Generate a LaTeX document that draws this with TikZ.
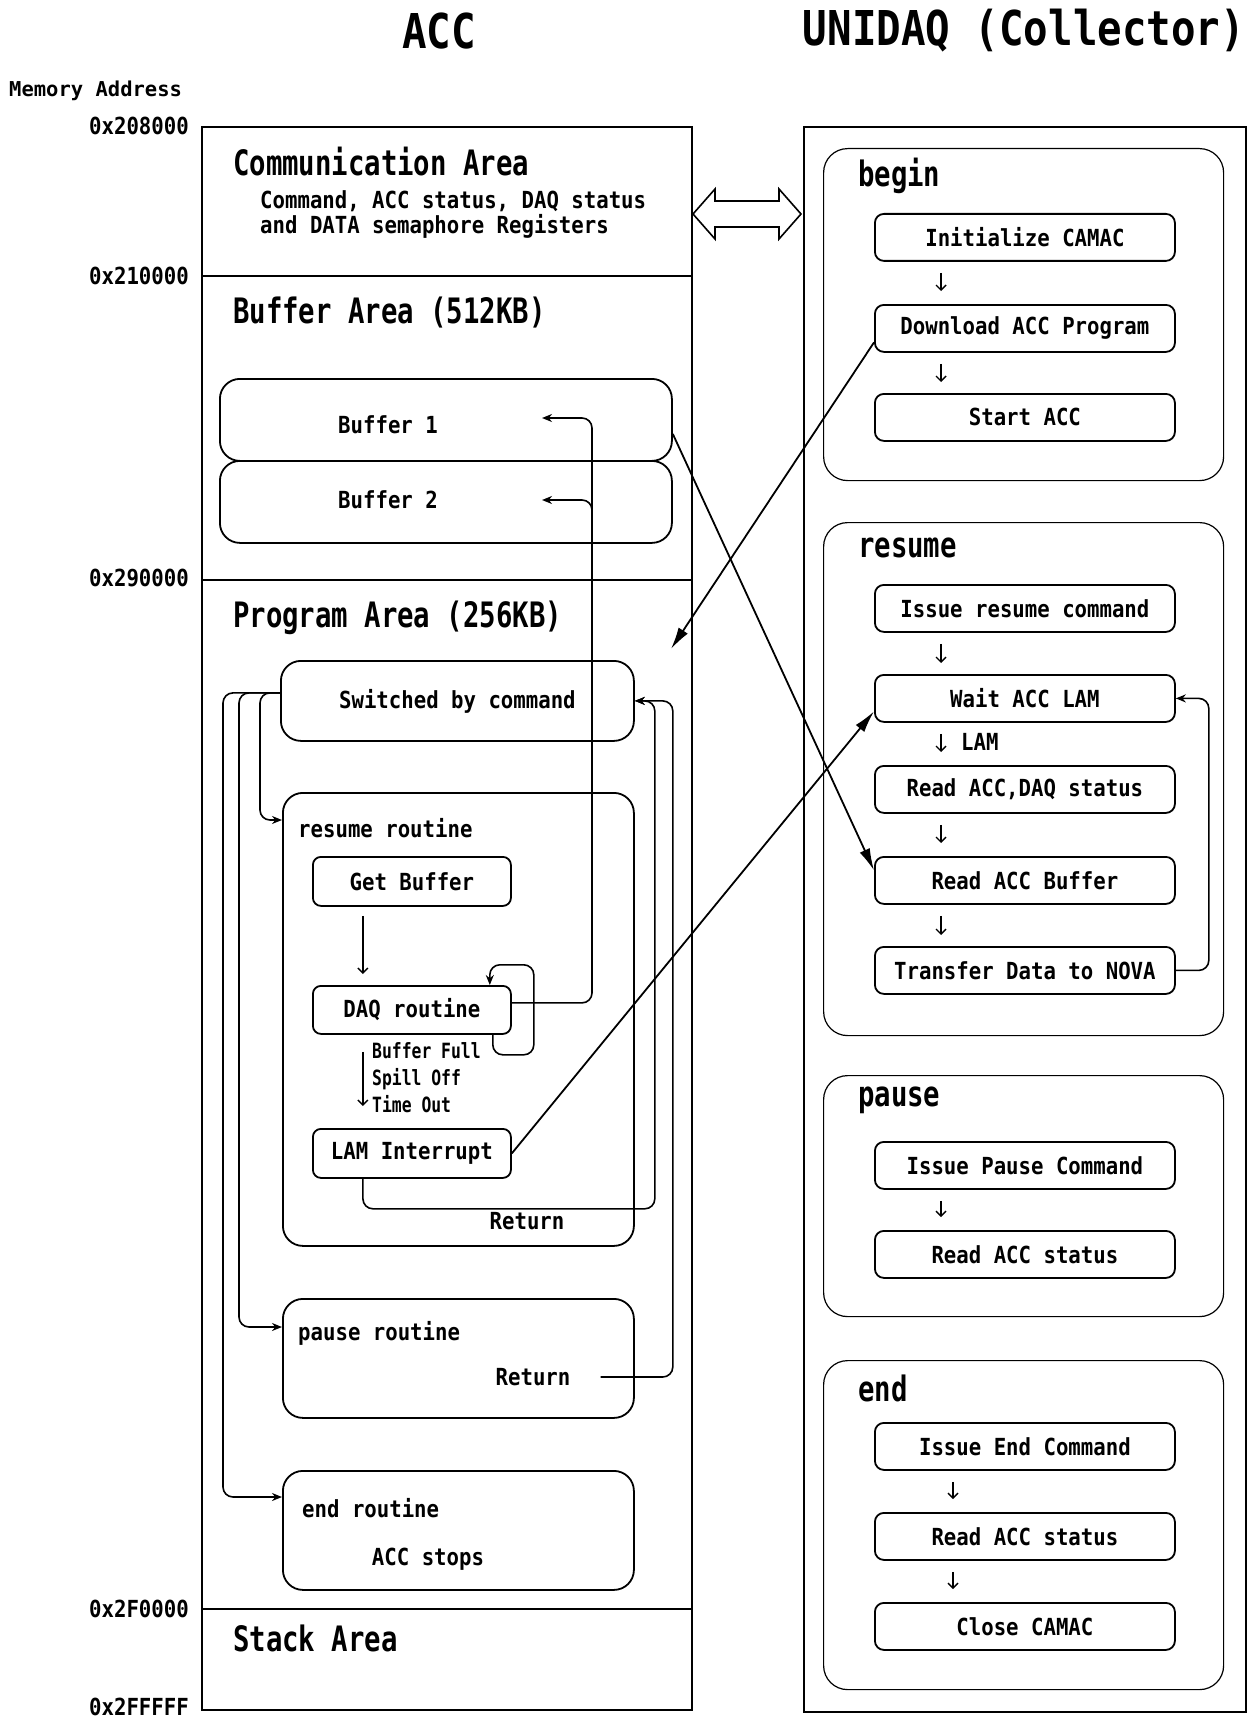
\documentclass[tikz,border=0pt]{standalone}
\usepackage{fontspec}
\usetikzlibrary{arrows.meta,calc}
% condensed gothic-like faces built from one monospaced family
\newfontfamily\accTitle[FakeStretch=0.85]{DejaVu Sans Mono}
\newfontfamily\accHead[FakeStretch=0.78]{DejaVu Sans Mono}
\newfontfamily\accBody[FakeStretch=0.88]{DejaVu Sans Mono}
\newfontfamily\accSmall[FakeStretch=0.78]{DejaVu Sans Mono}
\newfontfamily\accMem{DejaVu Sans Mono}
\newcommand\titletxt{\accTitle\bfseries\fontsize{48}{52}\selectfont}
\newcommand\headtxt{\accHead\bfseries\fontsize{35}{40}\selectfont}
\newcommand\bodytxt{\accBody\bfseries\fontsize{23.5}{25}\selectfont}
\newcommand\smalltxt{\accSmall\bfseries\fontsize{21}{27}\selectfont}
\newcommand\memtxt{\accMem\bfseries\fontsize{20.5}{24}\selectfont}
\begin{document}
\begin{tikzpicture}[x=1pt, y=-1pt,
  panel/.style={draw, line width=2pt, inner sep=0pt, anchor=north west},
  grp/.style={draw, line width=1.2pt, rounded corners=24pt, inner sep=0pt,
    anchor=north west, minimum width=400pt},
  stepbox/.style={draw, line width=1.8pt, rounded corners=9pt, inner sep=0pt,
    anchor=north west, minimum width=300pt, minimum height=47pt, font=\bodytxt},
  bigbox/.style={draw, line width=1.8pt, rounded corners=20pt, inner sep=0pt,
    anchor=north west, font=\bodytxt},
  smallbox/.style={draw, line width=1.8pt, rounded corners=8pt, inner sep=0pt,
    anchor=north west, minimum width=198pt, minimum height=49pt, font=\bodytxt},
  txt/.style={font=\bodytxt, inner sep=0pt},
  head/.style={font=\headtxt, inner sep=0pt, anchor=west},
  addr/.style={font=\bodytxt, inner sep=0pt, anchor=east},
  flow/.style={line width=1.6pt, rounded corners=10pt, -{Stealth[length=10pt,width=8pt]}},
  link/.style={line width=1.8pt, -{Latex[length=22pt,width=11pt]}},
  down/.style={line width=1.4pt, -{Straight Barb[length=5pt,width=10pt]}},
]
\useasboundingbox (0,0) rectangle (1255,1720);
\fill[white] (0,0) rectangle (1255,1720);

% ---- titles and address column ----
\node[font=\titletxt, inner sep=0pt] (tacc) at (439,31) {ACC};
\node[font=\titletxt, inner sep=0pt] (tuni) at (1024,31) {UNIDAQ (Collector)};
\node[font=\memtxt, inner sep=0pt, anchor=west] (mem) at (9,91) {Memory Address};
\node[addr] (a1) at (189,126) {0x208000};
\node[addr] (a2) at (189,276) {0x210000};
\node[addr] (a3) at (189,578) {0x290000};
\node[addr] (a4) at (189,1609) {0x2F0000};
\node[addr] (a5) at (189,1707) {0x2FFFFF};

% ---- ACC memory map ----
\node[panel, minimum width=490pt, minimum height=1583pt] (acc) at (201,126) {};
\draw[line width=2pt] (acc.west |- 0,276) -- (acc.east |- 0,276);
\draw[line width=2pt] (acc.west |- 0,580) -- (acc.east |- 0,580);
\draw[line width=2pt] (acc.west |- 0,1609) -- (acc.east |- 0,1609);

\node[head] (hcomm) at (233,162) {Communication Area};
\node[txt, anchor=west, align=left] (comm) at (260,214.5)
  {Command, ACC status, DAQ status\\and DATA semaphore Registers};

\node[head] (hbuf) at (233,313) {Buffer Area (512KB)};
\node[bigbox, minimum width=452pt, minimum height=82pt] (b1) at (219,378) {};
\node[bigbox, minimum width=452pt, minimum height=82pt] (b2) at (219,460) {};
\node[txt] (b1t) at (388,425) {Buffer 1};
\node[txt] (b2t) at (388,500) {Buffer 2};
\coordinate (b1in) at (542,418);
\coordinate (b2in) at (542,500);
\coordinate (bus) at (592,0);

\node[head] (hprog) at (233,618) {Program Area (256KB)};
\coordinate (pgin) at (671,649);
\node[bigbox, minimum width=353pt, minimum height=80pt] (sw) at (280,660) {Switched by command};

\node[bigbox, minimum width=351pt, minimum height=453pt] (rr) at (282,792) {};
\node[txt, anchor=west] (rrt) at (298,828) {resume routine};
\node[smallbox] (gb) at (312,856) {Get Buffer};
\node[smallbox, minimum height=48pt] (daq) at (312,985) {DAQ routine};
\node[smallbox] (lam) at (312,1128) {LAM Interrupt};
\node[font=\smalltxt, inner sep=0pt, anchor=west, align=left] (cond) at (372,1078)
  {Buffer Full\\Spill Off\\Time Out};
\node[txt] (lret) at (527,1221) {Return};

\node[bigbox, minimum width=351pt, minimum height=119pt] (pr) at (282,1298) {};
\node[txt, anchor=west] (prt) at (298,1333) {pause routine};
\node[txt] (pret) at (533,1377) {Return};

\node[bigbox, minimum width=351pt, minimum height=119pt] (er) at (282,1470) {};
\node[txt, anchor=west] (ert) at (302,1508) {end routine};
\node[txt] (stop) at (428,1559) {ACC stops};

\node[head] (hstack) at (233,1638) {Stack Area};

% flow inside the program area
\draw[down] ($(gb.south)+(-49,9)$) -- ($(daq.north)+(-49,-11)$);
\draw[down] ($(daq.south)+(-49,17)$) -- ($(lam.north)+(-49,-22)$);
\draw[flow] ([xshift=-19pt]daq.south east) -- ++(0,20) -- ++(41,0) -- ++(0,-90)
  -| ([xshift=-22pt]daq.north east);
\draw[flow] ([yshift=7pt]daq.east) -| (bus |- b1in) -- (b1in);
\draw[flow] ($(bus |- b2in)+(0,14)$) -- (bus |- b2in) -- (b2in);

\draw[flow] ([yshift=8pt]sw.west) -- ++(-20,0) |- ([yshift=-28pt]rr.north west);
\draw[flow] ([yshift=8pt]sw.west) -- ++(-41,0) |- ([yshift=-29pt]pr.north west);
\draw[flow] ([yshift=8pt]sw.west) -- ++(-57,0) |- ([yshift=-27pt]er.north west);

\draw[flow] ([xshift=-49pt]lam.south) -- ++(0,30) -| ([xshift=20pt]sw.east) -- (sw.east);
\draw[flow] ([xshift=30pt]pret.east) -| ([xshift=38pt]sw.east) -- (sw.east);

% ---- UNIDAQ collector ----
\node[panel, minimum width=442pt, minimum height=1585pt] (uni) at (803,126) {};
\draw[line width=1.6pt] (693,214) -- ++(22,-25) -- ++(0,12) -- ++(64,0) -- ++(0,-12)
  -- ++(22,25) -- ++(-22,25) -- ++(0,-12) -- ++(-64,0) -- ++(0,12) -- cycle;

\node[grp, minimum height=332pt] (gbeg) at (823,148) {};
\node[head] (tbeg) at (858,176) {begin};
\node[stepbox] (init) at (874,213) {Initialize CAMAC};
\node[stepbox] (dl) at (874,304) {Download ACC Program};
\node[stepbox] (start) at (874,393) {Start ACC};
\draw[down] ($(init.south west)+(67,11)$) -- ($(dl.north west)+(67,-13)$);
\draw[down] ($(dl.south west)+(67,11)$) -- ($(start.north west)+(67,-11)$);

\node[grp, minimum height=513pt] (gres) at (823,522) {};
\node[head] (tres) at (858,548) {resume};
\node[stepbox] (irc) at (874,584) {Issue resume command};
\node[stepbox] (wait) at (874,674) {Wait ACC LAM};
\node[stepbox] (rads) at (874,765) {Read ACC,DAQ status};
\node[stepbox] (rab) at (874,856) {Read ACC Buffer};
\node[stepbox] (tdn) at (874,946) {Transfer Data to NOVA};
\draw[down] ($(irc.south west)+(67,11)$) -- ($(wait.north west)+(67,-11)$);
\draw[down] ($(wait.south west)+(67,11)$) -- ($(rads.north west)+(67,-13)$);
\node[txt, anchor=west] (lamlbl) at (961,742) {LAM};
\draw[down] ($(rads.south west)+(67,11)$) -- ($(rab.north west)+(67,-13)$);
\draw[down] ($(rab.south west)+(67,11)$) -- ($(tdn.north west)+(67,-11)$);
\draw[flow] (tdn.east) -- ++(33,0) |- (wait.east);

\node[grp, minimum height=241pt] (gpau) at (823,1075) {};
\node[head] (tpau) at (858,1100) {pause};
\node[stepbox] (ipc) at (874,1141) {Issue Pause Command};
\node[stepbox] (rasa) at (874,1230) {Read ACC status};
\draw[down] ($(ipc.south west)+(67,11)$) -- ($(rasa.north west)+(67,-13)$);

\node[grp, minimum height=329pt] (gend) at (823,1360) {};
\node[head] (tend) at (858,1388) {end};
\node[stepbox] (iec) at (874,1422) {Issue End Command};
\node[stepbox] (rasb) at (874,1512) {Read ACC status};
\node[stepbox] (close) at (874,1602) {Close CAMAC};
\draw[down] ($(iec.south west)+(79,11)$) -- ($(rasb.north west)+(79,-13)$);
\draw[down] ($(rasb.south west)+(79,11)$) -- ($(close.north west)+(79,-13)$);

% ---- links between the two machines ----
\draw[link] ([yshift=-14pt]dl.west) -- (pgin);
\draw[link] ([yshift=-14pt]b1.east) -- ([yshift=10pt]rab.west);
\draw[link] (lam.east) -- ([yshift=-13pt]wait.west);
\end{tikzpicture}
\end{document}
